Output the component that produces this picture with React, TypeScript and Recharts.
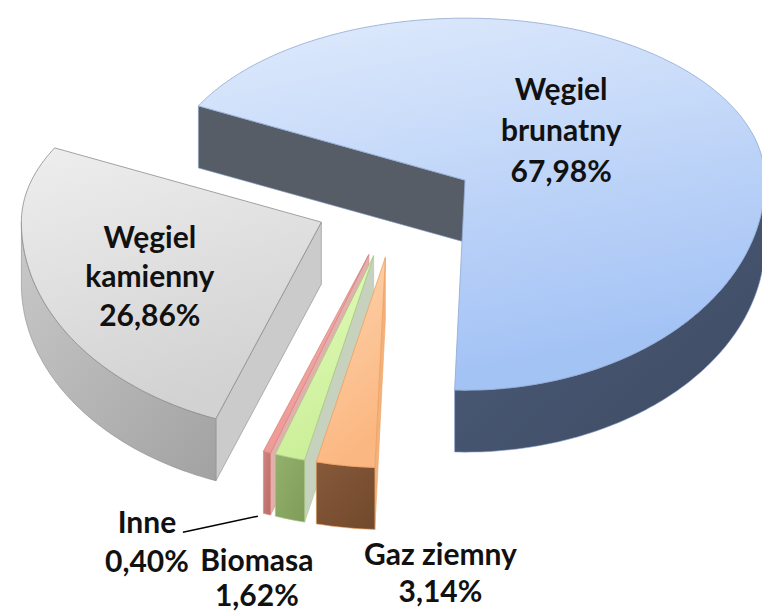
import React from "react";
import { PieChart, Pie } from "recharts";

// share of electricity production by fuel (%)
const SOURCES = ["Węgiel brunatny", "Węgiel kamienny", "Inne", "Biomasa", "Gaz ziemny"];
const SHARES = [67.98, 26.86, 0.4, 1.62, 3.14];
const LABEL_LINES = [["Węgiel", "brunatny"], ["Węgiel", "kamienny"], ["Inne"], ["Biomasa"], ["Gaz ziemny"]];

const data = SOURCES.map((name, i) => ({ name, value: SHARES[i], lines: LABEL_LINES[i] }));

// fake 3d look
const KT = 0.54;
const KB = 0.7;
const EXPLODE = 80;
const DEPTH = 62;

type Look = {
  top: [string, string];
  side: [string, string];
  face: string;
  edge: string;
  label: { inside: boolean; r?: number; dx: number; dy: number; lh: number };
};

const LOOK: Record<string, Look> = {
  "Węgiel brunatny": {
    top: ["#e0ebfc", "#a4c3f5"],
    side: ["#4e5e7a", "#3d4a63"],
    face: "#575d67",
    edge: "#8fa8d2",
    label: { inside: true, r: 130, dx: -16, dy: -14, lh: 41 },
  },
  "Węgiel kamienny": {
    top: ["#eeeeee", "#d2d2d2"],
    side: ["#c9c9c9", "#a2a2a2"],
    face: "#cbcbcb",
    edge: "#8c8c8c",
    label: { inside: true, r: 186, dx: 2, dy: 8, lh: 39 },
  },
  Inne: {
    top: ["#f6b3ae", "#ee9893"],
    side: ["#cf8581", "#b86a66"],
    face: "#e2b0ac",
    edge: "#d88580",
    label: { inside: false, dx: -120, dy: 8, lh: 39 },
  },
  Biomasa: {
    top: ["#e4fcbf", "#cbef98"],
    side: ["#93b06c", "#7f9c58"],
    face: "#c6d2bd",
    edge: "#a9c88a",
    label: { inside: false, dx: -33, dy: 41, lh: 35 },
  },
  "Gaz ziemny": {
    top: ["#fdd5b0", "#fbb781"],
    side: ["#86593a", "#72492c"],
    face: "#f2b27c",
    edge: "#f0a060",
    label: { inside: false, dx: 95, dy: 27, lh: 37 },
  },
};

const rad = (d: number) => (d * Math.PI) / 180;
const proj = (x0: number, y0: number, r: number, a: number) => {
  const s = Math.sin(rad(a));
  return { x: x0 + r * Math.cos(rad(a)), y: y0 - r * s * (s >= 0 ? KT : KB) };
};

const fmt = (v: number) => v.toFixed(2).replace(".", ",") + "%";

const renderSlice = (props: any) => {
  const { cx, cy, outerRadius, startAngle, endAngle, midAngle, index, name, value, payload } = props;
  const look = LOOK[name];
  const o = proj(cx, cy, EXPLODE, midAngle);
  const rim = (a: number) => proj(o.x, o.y, outerRadius, a);
  const arc = (a0: number, a1: number, dy = 0) => {
    const n = Math.max(2, Math.ceil(Math.abs(a1 - a0)));
    const pts: string[] = [];
    for (let i = 0; i <= n; i++) {
      const p = rim(a0 + ((a1 - a0) * i) / n);
      pts.push(`${p.x.toFixed(1)},${(p.y + dy).toFixed(1)}`);
    }
    return pts;
  };
  const face = (a: number) => {
    const p = rim(a);
    return `M${o.x},${o.y} L${p.x},${p.y} L${p.x},${p.y + DEPTH} L${o.x},${o.y + DEPTH} Z`;
  };

  // outer wall only where it faces the viewer
  const sides: string[] = [];
  for (let k = -1; k <= 1; k++) {
    const lo = Math.max(startAngle, 180 + 360 * k);
    const hi = Math.min(endAngle, 360 + 360 * k);
    if (hi > lo) {
      sides.push(`M${arc(lo, hi).join(" L")} L${arc(hi, lo, DEPTH).join(" L")} Z`);
    }
  }
  const showStart = Math.cos(rad(startAngle)) > 0.001;
  const showEnd = Math.cos(rad(endAngle)) < -0.001;

  const lines: string[] = [...(payload?.lines ?? [name]), fmt(value)];
  const lab = look.label;
  let tx: number;
  let ty: number;
  if (lab.inside) {
    const p = proj(o.x, o.y, lab.r ?? 120, midAngle);
    tx = p.x + lab.dx;
    ty = p.y + lab.dy - ((lines.length - 1) * lab.lh) / 2;
  } else {
    const p = rim(midAngle);
    tx = p.x + lab.dx;
    ty = p.y + DEPTH + lab.dy;
  }
  const rb = rim(midAngle);

  return (
    <g key={`slice-${index}`}>
      <defs>
        <linearGradient id={`top-${index}`} x1="0" y1="0" x2="0.3" y2="1">
          <stop offset="0%" stopColor={look.top[0]} />
          <stop offset="100%" stopColor={look.top[1]} />
        </linearGradient>
        <linearGradient id={`side-${index}`} x1="0" y1="0" x2="1" y2="1">
          <stop offset="0%" stopColor={look.side[0]} />
          <stop offset="100%" stopColor={look.side[1]} />
        </linearGradient>
      </defs>
      {showStart && <path d={face(startAngle)} fill={look.face} stroke={look.edge} strokeWidth={0.6} />}
      {showEnd && <path d={face(endAngle)} fill={look.face} stroke={look.edge} strokeWidth={0.6} />}
      {sides.map((d, i) => (
        <path key={i} d={d} fill={`url(#side-${index})`} stroke={look.edge} strokeWidth={0.6} />
      ))}
      <path
        d={`M${o.x},${o.y} L${arc(startAngle, endAngle).join(" L")} Z`}
        fill={`url(#top-${index})`}
        stroke={look.edge}
        strokeWidth={0.8}
      />
      {name === "Inne" && (
        <path d={`M${tx + 36},${ty + 10} L${rb.x - 9},${rb.y + DEPTH + 2}`} stroke="#000" strokeWidth={1.5} fill="none" />
      )}
      {lines.map((t, i) => (
        <text
          key={t}
          x={tx}
          y={ty + i * lab.lh}
          dy="0.35em"
          textAnchor="middle"
          fill="#111"
          fontFamily="Lato, 'Open Sans', sans-serif"
          fontSize={30}
          fontWeight={700}
        >
          {t}
        </text>
      ))}
    </g>
  );
};

export default function App() {
  return (
    <div style={{ position: "absolute", left: 0, top: 0, background: "#fff" }}>
      <PieChart width={762} height={611}>
        <Pie
          data={data}
          dataKey="value"
          nameKey="name"
          cx={391}
          cy={197}
          outerRadius={300}
          startAngle={-92}
          endAngle={268}
          fill="none"
          stroke="none"
          label={renderSlice}
          labelLine={false}
          isAnimationActive={false}
        />
      </PieChart>
    </div>
  );
}
